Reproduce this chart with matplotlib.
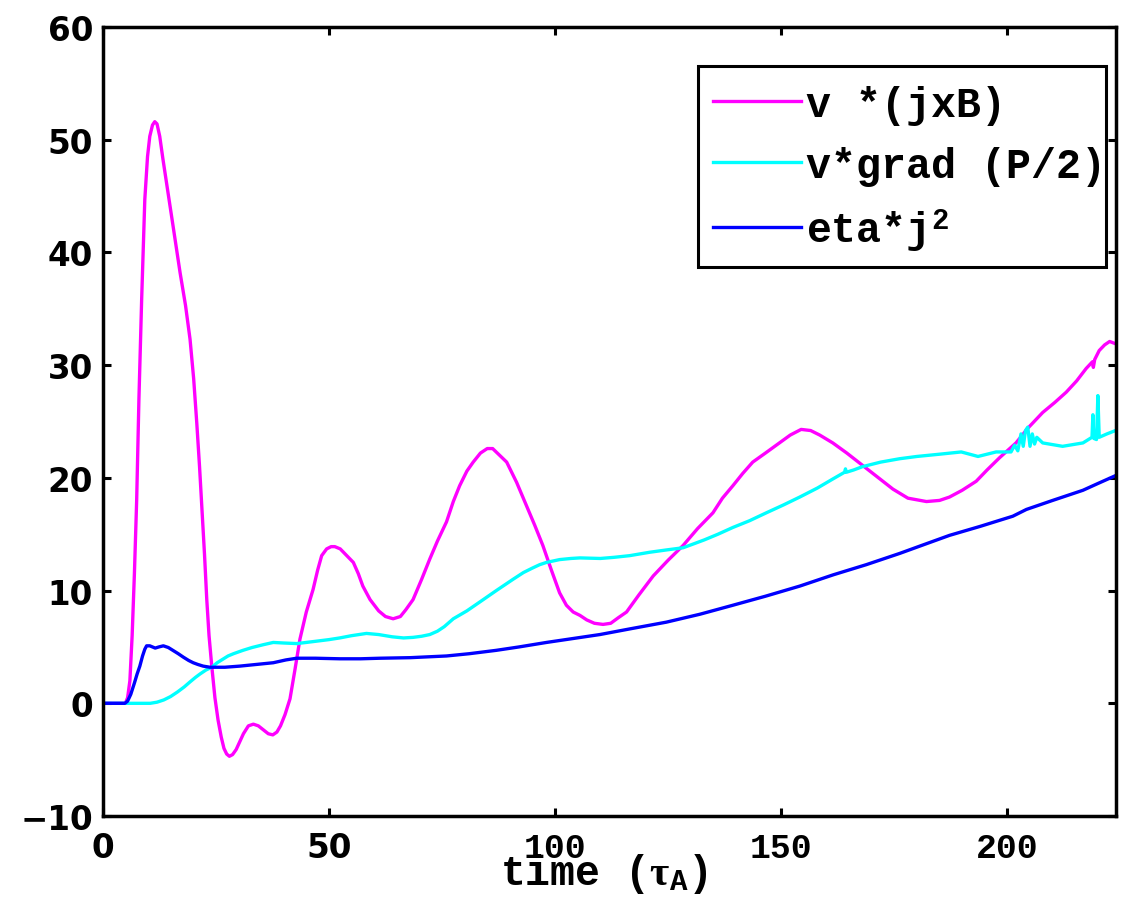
import matplotlib
matplotlib.use('Agg')
import matplotlib.pyplot as plt
from matplotlib.patches import Rectangle

# fonts: bold sans ticks, bold courier-like text for legend/label
plt.rcParams['font.family'] = 'DejaVu Sans'
plt.rcParams['font.weight'] = 'bold'
plt.rcParams['mathtext.fontset'] = 'custom'
plt.rcParams['mathtext.rm'] = 'Liberation Serif'
plt.rcParams['mathtext.it'] = 'Liberation Serif'
plt.rcParams['mathtext.bf'] = 'Liberation Mono:bold'
plt.rcParams['mathtext.default'] = 'rm'

# v*(jxB)
t_jxb = [0, 5, 5.5, 6, 6.5, 7, 7.5, 8, 8.6, 9.3, 9.9, 10.4, 11, 11.5, 12, 12.6,
         13.3, 14.1, 15.6, 17.1, 18.3, 19.3, 20.1, 20.8, 21.4, 21.9, 22.5, 23,
         23.5, 24.1, 24.8, 25.5, 26.2, 26.8, 27.4, 28, 28.7, 29.5, 30.3, 31.1,
         32.2, 33.3, 34.4, 35.5, 36.6, 37.6, 38.5, 39.3, 40.3, 41.4, 42.5, 43.6,
         45, 46.5, 47.5, 48.4, 49.5, 50.5, 51.3, 52.5, 53.7, 55.4, 56.5, 57.5,
         59.1, 61, 62.5, 64.2, 65.8, 67, 68.6, 70.5, 72.3, 74, 76, 77.5, 78.9,
         80.5, 81.9, 83.5, 85, 86.2, 87.5, 89.3, 91.5, 93.7, 95.5, 97.3, 99.2,
         101, 102.5, 104, 105.5, 107, 108.7, 110.6, 112.3, 114, 115.8, 118.5,
         121.7, 125, 128.3, 131.5, 134.9, 137, 139.3, 141.5, 143.7, 146.5, 149.6,
         152, 154.4, 156.5, 158.5, 161.4, 164.5, 168, 171.5, 174.7, 178, 182.1,
         185, 187.2, 190, 193.1, 195.5, 198.3, 201.9, 204.5, 207.8, 210.5, 213,
         215.3, 217.4, 218.8, 219.0, 219.3, 220.3, 221.5, 222.6, 223.9]
p_jxb = [0, 0, 0.5, 2, 6, 11.5, 18, 27, 35.8, 44.7, 48.5, 50.3, 51.3, 51.6, 51.4,
         50.3, 48.3, 46.2, 42.2, 38.2, 35.3, 32.3, 28.8, 24.8, 21, 17.5, 13.2, 9.2,
         6.0, 3.3, 0.5, -1.5, -3.0, -4.0, -4.5, -4.7, -4.55, -4.1, -3.4, -2.7,
         -2.0, -1.85, -2.0, -2.35, -2.7, -2.8, -2.55, -2.0, -1.0, 0.4, 3.0, 5.7,
         8.1, 10.1, 11.8, 13.1, 13.7, 13.9, 13.9, 13.7, 13.2, 12.5, 11.5, 10.4,
         9.2, 8.2, 7.7, 7.5, 7.7, 8.3, 9.2, 11.0, 12.8, 14.4, 16.1, 17.9, 19.3,
         20.6, 21.4, 22.2, 22.6, 22.6, 22.1, 21.4, 19.6, 17.5, 15.8, 14, 11.8,
         9.8, 8.7, 8.1, 7.8, 7.4, 7.1, 7.0, 7.1, 7.6, 8.1, 9.6,
         11.3, 12.7, 14.0, 15.5, 16.9, 18.2, 19.3, 20.4, 21.4, 22.2, 23.1,
         23.8, 24.3, 24.2, 23.8, 23.1, 22.2, 21.1, 20.0, 19.0, 18.2, 17.9,
         18.0, 18.3, 18.9, 19.7, 20.7, 21.8, 23.1, 24.4, 25.8, 26.7, 27.6,
         28.6, 29.7, 30.3, 29.8, 30.5, 31.3, 31.8, 32.1, 31.9]

# v*grad(P/2)
t_gradp = [0, 10.5, 12, 13.5, 15, 16.5, 18, 19.3, 20.5, 21.5, 22.8, 24.1, 25.3,
           26.5, 27.7, 28.9, 31, 33, 35.5, 37.7, 40, 42.9, 45, 47, 50, 52.4, 55,
           58.3, 61, 64, 66.5, 68.6, 70.5, 72.3, 74, 75.5, 77.5, 80.5, 83.4, 87,
           90.7, 93, 95, 96.6, 98.1, 101, 103.5, 105.5, 110, 113, 116.5, 120.9,
           124.5, 128.3, 131, 133, 136, 139.3, 143, 146.7, 150.5, 154.1, 158,
           161.4, 164, 164.2, 164.4, 166, 168, 172, 176.2, 180, 185, 189.8,
           193.5, 197.5, 200.8, 201.6, 202.3, 203, 203.5, 204, 204.5, 205, 205.5,
           206, 206.5, 207.8, 212.2, 216.7, 218.7, 218.9, 219.1, 219.7, 220,
           220.3, 222, 223.9]
p_gradp = [0, 0, 0.1, 0.3, 0.6, 1.0, 1.45, 1.9, 2.3, 2.6, 2.95, 3.2, 3.6,
           3.9, 4.2, 4.4, 4.7, 4.95, 5.2, 5.4, 5.35, 5.3, 5.4, 5.5, 5.65, 5.8, 6.0,
           6.2, 6.1, 5.9, 5.8, 5.85, 5.95, 6.1, 6.4, 6.8, 7.5, 8.2, 9.0, 10.0,
           11.0, 11.6, 12.0, 12.3, 12.5, 12.75, 12.85, 12.9, 12.85, 12.95, 13.1, 13.4,
           13.6, 13.8, 14.2, 14.5, 15.0, 15.6, 16.2, 16.9, 17.6, 18.3, 19.1,
           19.9, 20.5, 20.8, 20.5, 20.7, 21.0, 21.4, 21.7, 21.9, 22.1, 22.3,
           21.9, 22.3, 22.3, 22.9, 22.4, 23.9, 22.8, 24.2, 24.5, 22.8, 23.9,
           23.0, 23.6, 23.1, 22.8, 23.1, 23.6, 25.6, 23.5, 23.4, 27.3,
           23.6, 23.9, 24.2]

# eta*j^2
t_ohm = [0, 4.9, 5.5, 6.2, 7, 7.6, 8.2, 8.8, 9.3, 9.7, 10.4, 11.6, 12.4, 13.4,
         14.5, 15.5, 16.7, 17.8, 19, 20, 21, 22.2, 23.7, 27, 30.3, 34, 37.7,
         40.5, 42.9, 47, 52.4, 57, 61.3, 68, 76, 81, 87, 92, 98.1, 104, 109.9,
         116.5, 124.6, 132, 139.3, 146.5, 154.1, 161.5, 168.8, 176.2, 181, 187.2,
         194, 201.2, 204.2, 210, 216.7, 220, 223.9]
p_ohm = [0, 0, 0.2, 0.8, 1.8, 2.6, 3.3, 4.2, 4.8, 5.1, 5.1, 4.9, 5.0, 5.1,
         4.95, 4.7, 4.4, 4.1, 3.8, 3.6, 3.45, 3.3, 3.2, 3.2, 3.3, 3.45, 3.6,
         3.85, 4.0, 4.0, 3.95, 3.95, 4.0, 4.05, 4.2, 4.4, 4.7, 5.0, 5.4, 5.75, 6.1,
         6.6, 7.2, 7.9, 8.7, 9.5, 10.4, 11.4, 12.3, 13.3, 14.0, 14.9,
         15.7, 16.6, 17.2, 18.0, 18.9, 19.5, 20.2]

labels = ['v *(jxB)', 'v*grad (P/2)', r'eta*j$^{\mathbf{2}}$']
colors = ['#ff00ff', '#00ffff', '#0000ff']

fig = plt.figure(figsize=(11.34, 9.03), dpi=100)
ax = fig.add_axes([0.0906, 0.0952, 0.8935, 0.8738])

ax.plot(t_jxb, p_jxb, color=colors[0], lw=2.4, label=labels[0])
ax.plot(t_gradp, p_gradp, color=colors[1], lw=2.4, label=labels[1])
ax.plot(t_ohm, p_ohm, color=colors[2], lw=2.4, label=labels[2])

ax.set_xlim(0, 224)
ax.set_ylim(-10, 60)
ax.set_xticks([0, 50, 100, 150, 200])
ax.set_yticks(range(-10, 61, 10))

for sp in ax.spines.values():
    sp.set_linewidth(2.5)
ax.tick_params(direction='in', length=6, width=2.2, top=True, right=True,
               labelsize=23.5)
ax.tick_params(axis='x', pad=11)
ax.tick_params(axis='y', pad=7)

# the three-digit x tick labels come out in the typewriter face
for lab in ax.get_xticklabels():
    if lab.get_text() in ('100', '150', '200'):
        lab.set_family('Liberation Mono')
        lab.set_fontsize(25)

mono = {'family': 'Liberation Mono', 'weight': 'bold', 'size': 30}

ax.set_xlabel(r'time ($\tau_{\mathbf{A}}$)', fontdict=mono)
ax.xaxis.set_label_coords(0.495, -0.086)
ax.xaxis.label.set_verticalalignment('baseline')

# legend entries without frame, box drawn separately so text may run past it
leg = ax.legend(loc='upper left', bbox_to_anchor=(0.584, 0.9506), prop=mono,
                frameon=False, handlelength=2.1, handletextpad=0.12,
                borderpad=0.45, labelspacing=0.5, borderaxespad=0)
ax.add_patch(Rectangle((0.5875, 0.6958), 0.4027, 0.2548, transform=ax.transAxes,
                       fill=False, edgecolor='black', lw=2.2, zorder=5,
                       clip_on=False))

fig.savefig('out.png', dpi=100)
